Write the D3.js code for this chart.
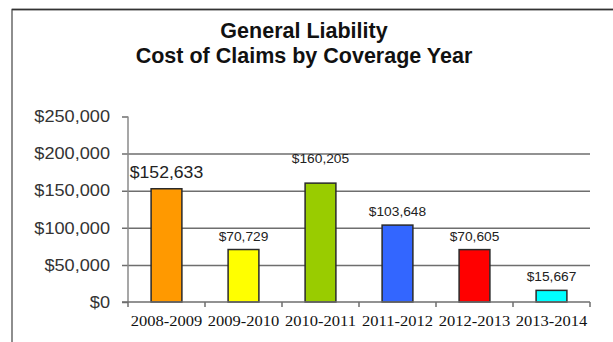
<!DOCTYPE html>
<html>
<head>
<meta charset="utf-8">
<script src="https://cdn.jsdelivr.net/npm/d3@7/dist/d3.min.js"></script>
<style>
  html, body { margin: 0; padding: 0; background: #fff; }
  svg { display: block; }
</style>
</head>
<body>
<svg id="chart" width="613" height="342"></svg>
<script>
// Coverage years and cost of claims per year
const categories = ["2008-2009", "2009-2010", "2010-2011", "2011-2012", "2012-2013", "2013-2014"];
const costs = [152633, 70729, 160205, 103648, 70605, 15667];
const barColors = ["#FF9900", "#FFFF00", "#99CC00", "#3366FF", "#FF0000", "#00FFFF"];
const yTicks = [0, 50000, 100000, 150000, 200000, 250000];
const titleLines = ["General Liability", "Cost of Claims by Coverage Year"];

const svg = d3.select("#chart");
const plot = { left: 128, right: 590, top: 116.5, bottom: 302 };
const stretch = 1.1; // horizontal widening of axis and value text

// Outer frame
svg.append("rect")
  .attr("x", 12).attr("y", 9.5)
  .attr("width", 640).attr("height", 400)
  .attr("fill", "#fff")
  .attr("stroke", "#6a6a6a").attr("stroke-width", 1.5);
svg.append("line")
  .attr("x1", 12).attr("x2", 613).attr("y1", 9.5).attr("y2", 9.5)
  .attr("stroke", "#333").attr("stroke-width", 1.5);

const x = d3.scaleBand()
  .domain(categories)
  .range([plot.left, plot.right])
  .paddingInner(0.6)
  .paddingOuter(0.3);

const y = d3.scaleLinear()
  .domain([0, 250000])
  .range([plot.bottom, plot.top]);

const money = d3.format("$,");

// Horizontal gridlines (ticks at the left edge)
const yAxis = d3.axisLeft(y)
  .tickValues(yTicks)
  .tickFormat(money)
  .tickSize(6)
  .tickPadding(12);

const gy = svg.append("g")
  .attr("class", "stretch")
  .attr("transform", `translate(${plot.left},0)`)
  .call(yAxis);
gy.select(".domain").remove();
gy.selectAll(".tick line")
  .attr("stroke", "#6e6e6e").attr("stroke-width", 1.5)
  .attr("x2", d => (d > 0 && d < 250000) ? plot.right - plot.left : 0)
  .attr("x1", -6);
gy.selectAll(".tick text")
  .attr("font-family", "Arial, 'Liberation Sans', sans-serif")
  .attr("font-size", 16.5)
  .attr("fill", "#333");

// Vertical axis line
svg.append("line")
  .attr("x1", plot.left).attr("x2", plot.left)
  .attr("y1", y(250000)).attr("y2", y(0))
  .attr("stroke", "#8a8a8a").attr("stroke-width", 1.5);

// Bars
svg.append("g").selectAll("rect")
  .data(costs)
  .join("rect")
  .attr("x", (d, i) => x(categories[i]))
  .attr("y", d => y(d))
  .attr("width", x.bandwidth())
  .attr("height", d => y(0) - y(d))
  .attr("fill", (d, i) => barColors[i])
  .attr("stroke", "#2a2a2a")
  .attr("stroke-width", 1.5);

// Category axis
const xAxis = d3.axisBottom(x).tickSize(0).tickPadding(13);
const gx = svg.append("g")
  .attr("class", "stretch")
  .attr("transform", `translate(0,${plot.bottom})`)
  .call(xAxis);
gx.select(".domain").remove();
gx.selectAll(".tick text")
  .attr("font-family", "'Times New Roman', 'Liberation Serif', serif")
  .attr("font-size", 15)
  .attr("fill", "#111");

svg.append("line")
  .attr("x1", plot.left - 6).attr("x2", plot.right)
  .attr("y1", plot.bottom).attr("y2", plot.bottom)
  .attr("stroke", "#6e6e6e").attr("stroke-width", 1.5);

// Tick marks between categories
const boundaries = d3.range(categories.length + 1)
  .map(i => plot.left + i * (plot.right - plot.left) / categories.length);
svg.append("g").selectAll("line")
  .data(boundaries)
  .join("line")
  .attr("x1", d => d).attr("x2", d => d)
  .attr("y1", plot.bottom).attr("y2", plot.bottom + 5)
  .attr("stroke", "#6e6e6e").attr("stroke-width", 1.5);

// Value labels above bars
svg.append("g")
  .attr("class", "stretch")
  .selectAll("text")
  .data(costs)
  .join("text")
  .attr("x", (d, i) => x(categories[i]) + x.bandwidth() / 2)
  .attr("y", (d, i) => y(d) - (i === 0 ? 11 : i === 2 ? 20 : 9))
  .attr("text-anchor", "middle")
  .attr("font-family", "Arial, 'Liberation Sans', sans-serif")
  .attr("font-size", (d, i) => i === 0 ? 16 : 12.5)
  .attr("fill", "#222")
  .text(d => money(d));

// Title
svg.append("g").selectAll("text")
  .data(titleLines)
  .join("text")
  .attr("x", 304)
  .attr("y", (d, i) => 38 + i * 24.5)
  .attr("text-anchor", "middle")
  .attr("font-family", "Arial, 'Liberation Sans', sans-serif")
  .attr("font-weight", "bold")
  .attr("font-size", 21.5)
  .attr("fill", "#111")
  .text(d => d);

// Widen axis and value labels slightly
svg.selectAll(".stretch text").each(function () {
  const w = this.getComputedTextLength();
  d3.select(this)
    .attr("textLength", w * stretch)
    .attr("lengthAdjust", "spacingAndGlyphs");
});
</script>
</body>
</html>
